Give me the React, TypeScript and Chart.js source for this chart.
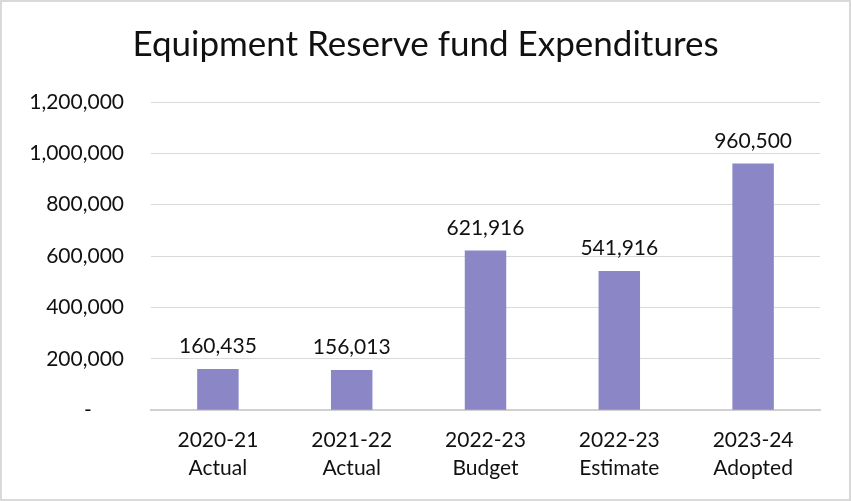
import React, { useEffect, useRef } from "react";
import { Chart, registerables } from "chart.js";

Chart.register(...registerables);

const categories: string[][] = [
  ["2020-21", "Actual"],
  ["2021-22", "Actual"],
  ["2022-23", "Budget"],
  ["2022-23", "Estimate"],
  ["2023-24", "Adopted"],
];
const expenditures: number[] = [160435, 156013, 621916, 541916, 960500];
const titleText = "Equipment Reserve fund Expenditures";
const yMax = 1200000;
const yStep = 200000;

const FONT = "Lato, 'Open Sans', sans-serif";

const fmt = (v: number) => v.toLocaleString("en-US");

const dataLabels = {
  id: "dataLabels",
  afterDatasetsDraw(chart: any) {
    const ctx = chart.ctx;
    const meta = chart.getDatasetMeta(0);
    ctx.save();
    ctx.font = `21px ${FONT}`;
    ctx.fillStyle = "#111";
    ctx.textAlign = "center";
    ctx.textBaseline = "bottom";
    meta.data.forEach((bar: any, i: number) => {
      ctx.fillText(fmt(expenditures[i]), bar.x, bar.y - 12);
    });
    ctx.restore();
  },
};

export default function App() {
  const ref = useRef<HTMLCanvasElement>(null);
  useEffect(() => {
    if (!ref.current) return;
    const chart = new Chart(ref.current, {
      type: "bar",
      data: {
        labels: categories,
        datasets: [
          {
            data: expenditures,
            backgroundColor: "#8B87C7",
            barPercentage: 0.31,
            categoryPercentage: 1,
          },
        ],
      },
      options: {
        animation: false,
        responsive: false,
        maintainAspectRatio: false,
        layout: { padding: { left: 29, right: 29, top: 0, bottom: 1 } },
        plugins: {
          legend: { display: false },
          tooltip: { enabled: false },
          title: {
            display: true,
            text: titleText,
            font: { family: FONT, size: 35, weight: "normal" },
            color: "#111",
            padding: { top: 22, bottom: 36 },
          },
        },
        scales: {
          x: {
            grid: { display: false, drawTicks: false },
            border: { display: true, color: "#d0d0d0", width: 2 },
            ticks: {
              font: { family: FONT, size: 21, lineHeight: 1.33 },
              color: "#111",
              padding: 16,
              maxRotation: 0,
            },
          },
          y: {
            min: 0,
            max: yMax,
            afterFit: (scale: any) => {
              scale.width = 120;
            },
            grid: { color: "#d9d9d9", lineWidth: 1, drawTicks: false },
            border: { display: false },
            ticks: {
              stepSize: yStep,
              font: { family: FONT, size: 21 },
              color: "#111",
              padding: 27,
              callback: (v: any) => (Number(v) === 0 ? "-      " : fmt(Number(v))),
            },
          },
        },
      },
      plugins: [dataLabels],
    });
    return () => chart.destroy();
  }, []);
  return (
    <div
      style={{
        position: "fixed",
        left: 0,
        top: 0,
        width: 851,
        height: 501,
        boxSizing: "border-box",
        border: "2px solid #d9d9d9",
        background: "#fff",
      }}
    >
      <canvas ref={ref} width={847} height={497} style={{ display: "block" }} />
    </div>
  );
}
